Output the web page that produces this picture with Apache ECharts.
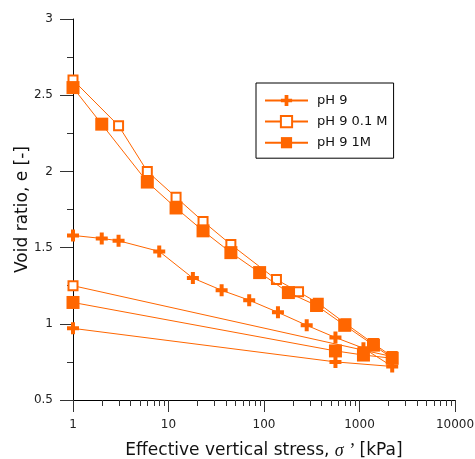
<!DOCTYPE html>
<html>
<head>
<meta charset="utf-8">
<script src="https://cdn.jsdelivr.net/npm/echarts@6/dist/echarts.min.js"></script>
<style>
  html, body { margin: 0; padding: 0; background: #fff; }
  #chart { width: 475px; height: 459px; }
</style>
</head>
<body>
<div id="chart"></div>
<script>
// Oedometer compression curves: void ratio vs effective vertical stress (log scale)
const seriesNames = ['pH 9', 'pH 9 0.1 M', 'pH 9 1M'];

// pH 9: loading, then unloading
const stressPH9 = [1, 2, 3, 8, 18, 36, 70, 140, 280, 560, 1100, 2200, 560, 1];
const voidPH9   = [1.58, 1.56, 1.545, 1.475, 1.30, 1.22, 1.155, 1.075, 0.99, 0.91, 0.84, 0.72, 0.75, 0.97];

// pH 9 with 0.1 M
const stressPH9_01M = [1, 3, 6, 12, 23, 45, 135, 230, 370, 720, 1400, 2200, 1];
const voidPH9_01M   = [2.60, 2.30, 2.00, 1.83, 1.672, 1.52, 1.29, 1.21, 1.135, 1.00, 0.87, 0.785, 1.25];

// pH 9 with 1M
const stressPH9_1M = [1, 2, 6, 12, 23, 45, 90, 180, 355, 700, 1400, 2200, 1100, 560, 1];
const voidPH9_1M   = [2.55, 2.31, 1.93, 1.76, 1.61, 1.467, 1.336, 1.205, 1.12, 0.99, 0.86, 0.774, 0.795, 0.822, 1.14];

// axis ranges and ticks
const xMin = 1, xMax = 10000;
const yMin = 0.5, yMax = 3, yStep = 0.5;
const minorMultipliers = [2, 3, 4, 5, 6, 7, 8, 9];
const decades = [1, 10, 100, 1000];

const minorTicks = [];
decades.forEach(d => minorMultipliers.forEach(m => minorTicks.push([d * m, yMin])));

const orange = '#ff6600';
const font = 'DejaVu Sans';
const plusPath = 'path://M-1,-3H1V-1H3V1H1V3H-1V1H-3V-1H-1Z';

const zip = (xs, ys) => xs.map((x, i) => [x, ys[i]]);

const chart = echarts.init(document.getElementById('chart'), null, { renderer: 'canvas' });

chart.setOption({
  animation: false,
  backgroundColor: '#fff',
  grid: { left: 73, right: 20, top: 19, bottom: 59, containLabel: false, outerBoundsMode: 'none' },
  legend: {
    data: seriesNames,
    orient: 'vertical',
    left: 256,
    top: 83,
    padding: [11, 6, 9, 8],
    itemWidth: 43,
    itemHeight: 14,
    itemGap: 8,
    borderColor: '#000',
    borderWidth: 1,
    textStyle: { fontFamily: font, fontSize: 13, color: '#111', padding: [0, 0, 0, 4] }
  },
  xAxis: {
    type: 'log',
    logBase: 10,
    min: xMin,
    max: xMax,
    name: 'Effective vertical stress, {s|σ ’} [kPa]',
    nameLocation: 'middle',
    nameGap: 42,
    nameMoveOverlap: false,
    nameTextStyle: {
      fontFamily: font, fontSize: 17, color: '#111',
      rich: { s: { fontFamily: 'Liberation Serif', fontStyle: 'italic', fontSize: 18, color: '#111' } }
    },
    axisLine: { lineStyle: { color: '#000', width: 1 } },
    axisTick: { length: 12, lineStyle: { color: '#333' } },
    axisLabel: {
      fontFamily: font, fontSize: 12, color: '#222', margin: 19,
      formatter: v => String(Math.round(v))
    },
    splitLine: { show: false },
    minorTick: { show: false },
    minorSplitLine: { show: false }
  },
  yAxis: {
    type: 'value',
    min: yMin,
    max: yMax,
    interval: yStep,
    name: 'Void ratio, e [-]',
    nameLocation: 'middle',
    nameGap: 42,
    nameMoveOverlap: false,
    nameTextStyle: { fontFamily: font, fontSize: 17, color: '#111' },
    axisLine: { show: true, lineStyle: { color: '#000', width: 1 } },
    axisTick: { show: true, length: 13, lineStyle: { color: '#333' } },
    minorTick: { show: true, splitNumber: 2, length: 6, lineStyle: { color: '#333' } },
    axisLabel: { fontFamily: font, fontSize: 12, color: '#222', margin: 20 },
    splitLine: { show: false }
  },
  series: [
    {
      name: seriesNames[0],
      type: 'line',
      data: zip(stressPH9, voidPH9),
      symbol: plusPath,
      symbolSize: 12,
      lineStyle: { color: orange, width: 1 },
      itemStyle: { color: orange, borderWidth: 0 },
      z: 3
    },
    {
      name: seriesNames[1],
      type: 'line',
      data: zip(stressPH9_01M, voidPH9_01M),
      symbol: 'rect',
      symbolSize: 9,
      lineStyle: { color: orange, width: 1 },
      itemStyle: { color: '#fff', borderColor: orange, borderWidth: 2 },
      z: 4
    },
    {
      name: seriesNames[2],
      type: 'line',
      data: zip(stressPH9_1M, voidPH9_1M),
      symbol: 'rect',
      symbolSize: 13,
      lineStyle: { color: orange, width: 1 },
      itemStyle: { color: orange, borderWidth: 0 },
      z: 5
    },
    {
      // minor ticks of the logarithmic stress axis
      type: 'custom',
      silent: true,
      clip: false,
      data: minorTicks,
      renderItem: function (params, api) {
        const p = api.coord([api.value(0), api.value(1)]);
        const x = Math.round(p[0]) + 0.5;
        return {
          type: 'line',
          shape: { x1: x, y1: p[1], x2: x, y2: p[1] + 6 },
          style: { stroke: '#333', lineWidth: 1 }
        };
      },
      z: 1
    }
  ]
});
</script>
</body>
</html>
